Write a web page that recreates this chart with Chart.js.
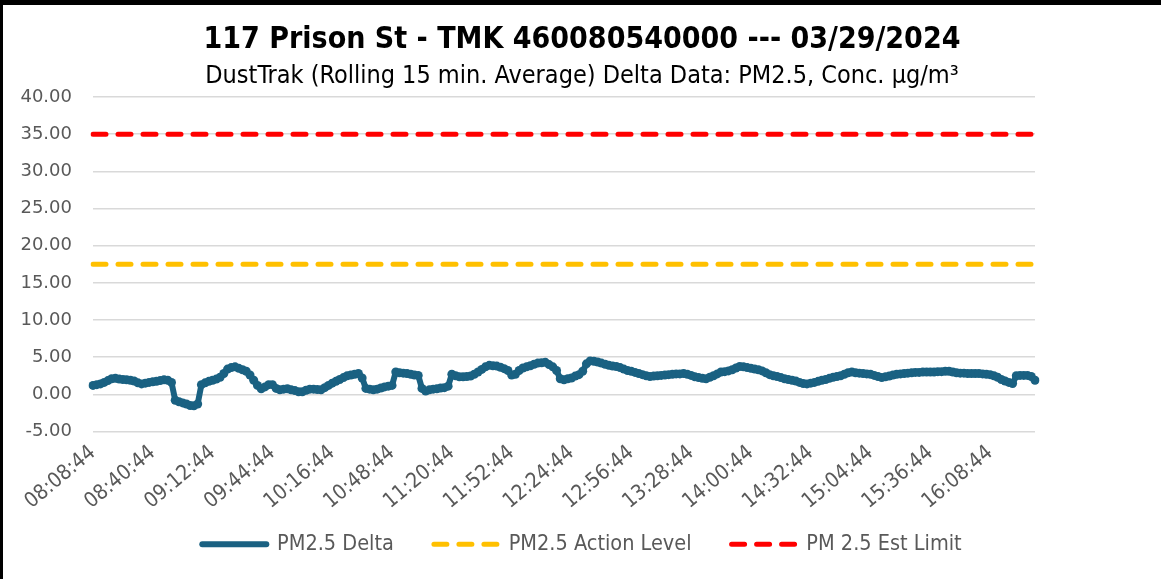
<!DOCTYPE html>
<html>
<head>
<meta charset="utf-8">
<title>117 Prison St - PM2.5</title>
<script src="https://cdn.jsdelivr.net/npm/chart.js@4.4.1/dist/chart.umd.min.js"></script>
<style>
  html, body { margin: 0; padding: 0; background: #fff; }
  #frame {
    position: absolute; left: 0; top: 0;
    width: 1158px; height: 574px;
    border-top: 5px solid #000; border-left: 3px solid #000;
  }
  #wrap { position: relative; width: 1158px; height: 574px; }
</style>
</head>
<body>
<div id="frame"><div id="wrap"><canvas id="dustChart"></canvas></div></div>
<script>
// readings every 2 minutes starting 08:08:44 (one row = 32 minutes)
const startTime = '08:08:44';
const stepMinutes = 2;
const tickEvery = 16;

const pm25Delta = [
  1.2, 1.3, 1.4, 1.6, 1.85, 2.1, 2.15, 2.05, 2.0, 1.95, 1.9, 1.8, 1.55, 1.4, 1.5, 1.6,
  1.7, 1.75, 1.85, 1.95, 1.9, 1.6, -0.8, -1.0, -1.15, -1.3, -1.5, -1.55, -1.3, 1.3, 1.55, 1.75,
  1.9, 2.05, 2.3, 2.8, 3.4, 3.6, 3.7, 3.5, 3.3, 3.1, 2.6, 1.9, 1.2, 0.75, 1.0, 1.3,
  1.3, 0.8, 0.6, 0.7, 0.75, 0.6, 0.5, 0.35, 0.35, 0.55, 0.7, 0.7, 0.65, 0.6, 0.9, 1.2,
  1.5, 1.75, 2.0, 2.25, 2.5, 2.6, 2.7, 2.8, 2.2, 0.8, 0.7, 0.6, 0.7, 0.85, 1.0, 1.1,
  1.2, 3.0, 2.9, 2.85, 2.8, 2.7, 2.6, 2.55, 0.8, 0.45, 0.6, 0.7, 0.75, 0.85, 0.9, 1.1,
  2.7, 2.5, 2.35, 2.35, 2.4, 2.45, 2.7, 3.0, 3.35, 3.7, 3.9, 3.85, 3.8, 3.65, 3.45, 3.2,
  2.6, 2.7, 3.2, 3.55, 3.7, 3.85, 4.05, 4.2, 4.25, 4.3, 4.0, 3.7, 3.2, 2.1, 1.95, 2.1,
  2.2, 2.45, 2.65, 3.1, 4.1, 4.5, 4.45, 4.35, 4.2, 4.05, 3.9, 3.8, 3.75, 3.6, 3.4, 3.2,
  3.1, 2.95, 2.8, 2.65, 2.5, 2.4, 2.45, 2.5, 2.55, 2.6, 2.65, 2.7, 2.75, 2.75, 2.8, 2.7,
  2.55, 2.35, 2.25, 2.15, 2.1, 2.3, 2.5, 2.75, 3.0, 3.05, 3.15, 3.3, 3.55, 3.75, 3.7, 3.6,
  3.5, 3.4, 3.3, 3.15, 2.9, 2.65, 2.5, 2.4, 2.25, 2.1, 2.0, 1.9, 1.8, 1.6, 1.45, 1.4,
  1.5, 1.6, 1.75, 1.9, 2.0, 2.15, 2.3, 2.4, 2.5, 2.7, 2.9, 3.0, 2.9, 2.85, 2.8, 2.75,
  2.7, 2.55, 2.4, 2.25, 2.35, 2.45, 2.6, 2.7, 2.75, 2.8, 2.85, 2.9, 2.95, 2.95, 3.0, 3.0,
  3.0, 3.0, 3.05, 3.05, 3.1, 3.1, 3.0, 2.9, 2.85, 2.85, 2.8, 2.8, 2.8, 2.8, 2.75, 2.7,
  2.65, 2.5, 2.3, 2.0, 1.8, 1.6, 1.45, 2.5, 2.55, 2.55, 2.55, 2.4, 1.9
];

const actionLevel = 17.5;
const estLimit = 35;

const yTicks = { min: -5, max: 40, step: 5 };

// time labels for every reading
function buildLabels(start, count, step) {
  const parts = start.split(':').map(Number);
  let secs = parts[0] * 3600 + parts[1] * 60 + parts[2];
  const out = [];
  for (let i = 0; i < count; i++) {
    const h = Math.floor(secs / 3600), m = Math.floor(secs / 60) % 60, s = secs % 60;
    out.push([h, m, s].map(n => String(n).padStart(2, '0')).join(':'));
    secs += step * 60;
  }
  return out;
}
const timeLabels = buildLabels(startTime, pm25Delta.length, stepMinutes);
const firstLabel = timeLabels[0];
const lastLabel = timeLabels[timeLabels.length - 1];

const axisFont = "'DejaVu Sans', 'Liberation Sans', sans-serif";
const narrowFont = "'Liberation Sans Narrow', 'DejaVu Sans Condensed', 'Liberation Sans', sans-serif";

document.addEventListener("DOMContentLoaded", function () {
  const ctx = document.getElementById('dustChart').getContext('2d');
  new Chart(ctx, {
    type: 'line',
    data: {
      labels: timeLabels,
      datasets: [{
        label: 'PM2.5 Delta',
        data: pm25Delta,
        borderColor: '#1a6182',
        backgroundColor: '#1a6182',
        borderWidth: 6,
        pointRadius: 4.5,
        pointBorderWidth: 0,
        pointBackgroundColor: '#1a6182',
        tension: 0,
        legendWidth: 6
      }, {
        label: 'PM2.5 Action Level',
        data: [{ x: firstLabel, y: actionLevel }, { x: lastLabel, y: actionLevel }],
        borderColor: '#ffc000',
        backgroundColor: '#ffc000',
        borderWidth: 5,
        borderDash: [13, 12],
        borderCapStyle: 'round',
        pointRadius: 0,
        legendWidth: 5
      }, {
        label: 'PM 2.5 Est Limit',
        data: [{ x: firstLabel, y: estLimit }, { x: lastLabel, y: estLimit }],
        borderColor: '#ff0000',
        backgroundColor: '#ff0000',
        borderWidth: 5,
        borderDash: [13, 12],
        borderCapStyle: 'round',
        pointRadius: 0,
        legendWidth: 5
      }]
    },
    options: {
      responsive: true,
      maintainAspectRatio: false,
      animation: false,
      layout: { padding: { left: 0, right: 0, top: 0, bottom: 14 } },
      plugins: {
        title: {
          display: true,
          text: '117 Prison St - TMK 460080540000 --- 03/29/2024',
          color: '#000',
          font: { family: narrowFont, size: 30, weight: 'bold' },
          padding: { top: 17, bottom: 0 }
        },
        subtitle: {
          display: true,
          text: 'DustTrak (Rolling 15 min. Average) Delta Data: PM2.5, Conc. μg/m³',
          color: '#000',
          font: { family: narrowFont, size: 25 },
          padding: { top: 3, bottom: 6 }
        },
        legend: {
          position: 'bottom',
          labels: {
            usePointStyle: true,
            boxWidth: 64,
            boxHeight: 6,
            pointStyleWidth: 64,
            padding: 40,
            color: '#595959',
            font: { family: narrowFont, size: 21.5 },
            generateLabels: (chart) => chart.data.datasets.map((ds, i) => ({
              text: ds.label,
              fillStyle: ds.borderColor,
              strokeStyle: ds.borderColor,
              lineWidth: ds.legendWidth,
              lineDash: ds.borderDash || [],
              lineCap: 'round',
              pointStyle: 'line',
              fontColor: '#595959',
              datasetIndex: i
            }))
          }
        },
        tooltip: { enabled: false }
      },
      scales: {
        x: {
          offset: false,
          grid: { display: false, drawTicks: false },
          border: { display: false },
          ticks: {
            autoSkip: false,
            maxRotation: 40,
            minRotation: 40,
            padding: 9,
            color: '#595959',
            font: { family: narrowFont, size: 21 },
            callback: function (value, index) {
              return index % tickEvery === 0 ? this.getLabelForValue(value) : null;
            }
          },
          afterFit: (scale) => {
            scale.height = 62;
            // rotated labels run past the short axis box; don't clip them
            scale._computeLabelArea = () => null;
          }
        },
        y: {
          min: yTicks.min,
          max: yTicks.max,
          grid: { color: '#d9d9d9', lineWidth: 1.5, drawTicks: false },
          border: { display: false },
          ticks: {
            stepSize: yTicks.step,
            padding: 21,
            color: '#595959',
            font: { family: axisFont, size: 18 },
            callback: (v) => v.toFixed(2)
          },
          afterFit: (scale) => { scale.width = 90; }
        },
        // empty right-hand margin, keeps titles centred on the whole canvas
        yRight: {
          position: 'right',
          display: true,
          grid: { display: false, drawTicks: false },
          border: { display: false },
          ticks: { display: false },
          afterFit: (scale) => { scale.width = 126; }
        }
      }
    }
  });
});
</script>
</body>
</html>
